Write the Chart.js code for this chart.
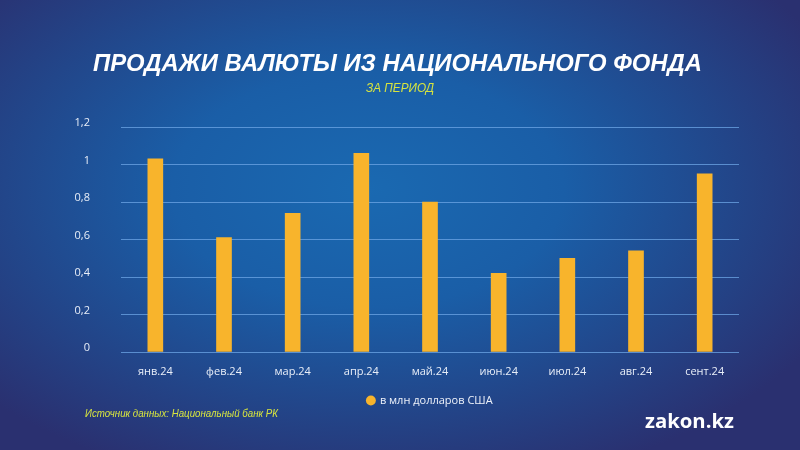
<!DOCTYPE html>
<html>
<head>
<meta charset="utf-8">
<script src="https://cdn.jsdelivr.net/npm/chart.js@4/dist/chart.umd.min.js"></script>
<style>
  html, body { margin: 0; padding: 0; }
  body {
    width: 800px; height: 450px; overflow: hidden; position: relative;
    background: radial-gradient(ellipse 70% 75% at 46% 42%, #1a69b1 0%, #1a5ea7 35%, #22468a 65%, #2a3070 92%);
  }
  #wrap { position: absolute; left: 0; top: 0; width: 800px; height: 450px; }
  .txt { position: absolute; white-space: nowrap; transform-origin: 0 0; }
  #title { left: 93px; top: 49px; color: #ffffff; font: italic bold 24px "Liberation Sans", Arial, sans-serif; line-height: 28px; }
  #subtitle { left: 366px; top: 80px; color: #d7e43f; font: italic 13px "Liberation Sans", Arial, sans-serif; line-height: 16px; }
  #source { left: 85px; top: 406px; color: #d7e43f; font: italic 10.5px "Liberation Sans", Arial, sans-serif; line-height: 14px; }
  #logo { left: 645px; top: 409px; color: #ffffff; font: bold 20px "Open Sans", sans-serif; line-height: 24px; }
</style>
</head>
<body>
<div id="wrap"><canvas id="c" width="800" height="450"></canvas></div>
<div id="title" class="txt" data-w="609">ПРОДАЖИ ВАЛЮТЫ ИЗ НАЦИОНАЛЬНОГО ФОНДА</div>
<div id="subtitle" class="txt" data-w="68">ЗА ПЕРИОД</div>
<div id="source" class="txt" data-w="193">Источник данных: Национальный банк РК</div>
<div id="logo" class="txt" data-w="89">zakon.kz</div>
<script>
const categories = ['янв.24', 'фев.24', 'мар.24', 'апр.24', 'май.24', 'июн.24', 'июл.24', 'авг.24', 'сент.24'];
const salesValues = [1.03, 0.61, 0.74, 1.06, 0.80, 0.42, 0.50, 0.54, 0.95];
const seriesLabel = 'в млн долларов США';
const yTickValues = [0, 0.2, 0.4, 0.6, 0.8, 1, 1.2];

document.querySelectorAll('.txt').forEach(el => {
  const target = parseFloat(el.dataset.w);
  const w = el.getBoundingClientRect().width;
  if (w > 0) el.style.transform = 'scaleX(' + (target / w) + ')';
});

const fmt = v => Number(v.toFixed(1)).toString().replace('.', ',');

new Chart(document.getElementById('c'), {
  type: 'bar',
  data: {
    labels: categories,
    datasets: [{
      label: seriesLabel,
      data: salesValues,
      backgroundColor: '#f8b42c',
      borderWidth: 0,
      barThickness: 15
    }]
  },
  options: {
    responsive: false,
    animation: false,
    layout: { padding: { left: 70, right: 61, top: 127, bottom: 34 } },
    plugins: {
      tooltip: { enabled: false },
      legend: {
        position: 'bottom',
        fullSize: false,
        labels: {
          usePointStyle: true,
          pointStyle: 'circle',
          boxWidth: 7,
          boxHeight: 7,
          padding: 10,
          color: '#eef2fa',
          font: { family: '"Open Sans", sans-serif', size: 11 }
        }
      }
    },
    scales: {
      x: {
        grid: { display: false, drawTicks: false },
        border: { display: false },
        ticks: {
          color: '#e8eef8',
          padding: 13,
          font: { family: '"Open Sans", sans-serif', size: 11 }
        },
        afterFit: s => { s.height = 33; }
      },
      y: {
        min: 0, max: 1.2,
        afterBuildTicks: s => { s.ticks = yTickValues.map(v => ({ value: v })); },
        grid: { color: 'rgba(110,165,230,0.75)', lineWidth: 1, drawTicks: false },
        border: { display: false },
        ticks: {
          color: '#e8eef8',
          padding: 31,
          labelOffset: -4,
          font: { family: '"Open Sans", sans-serif', size: 11 },
          callback: v => fmt(v)
        },
        afterFit: s => { s.width = 51; }
      }
    }
  }
});
</script>
</body>
</html>
